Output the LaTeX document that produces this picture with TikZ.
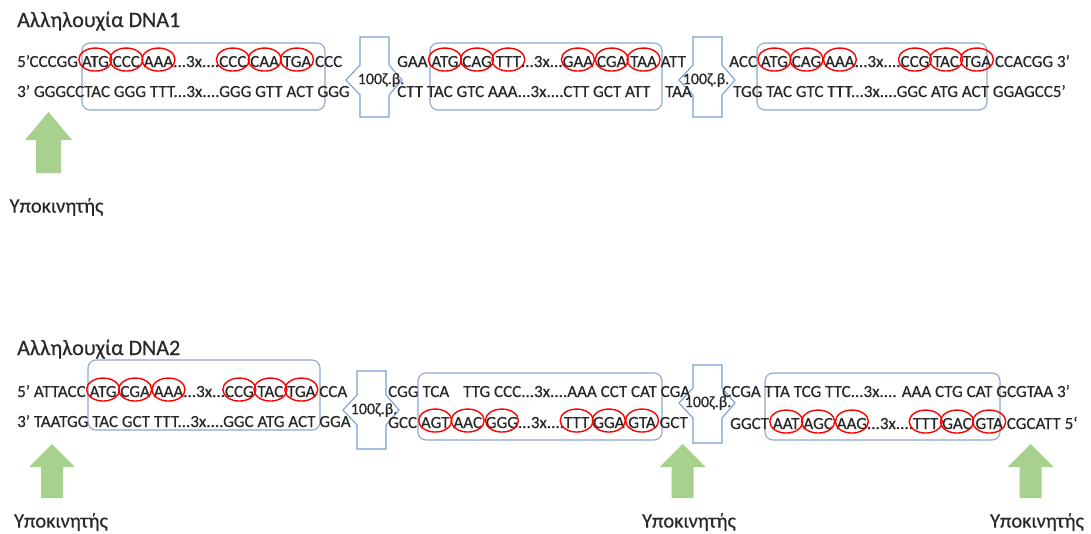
\documentclass[tikz,border=0pt]{standalone}
\usepackage{fontspec}
\setmainfont{Carlito}
\newfontfamily\dnafont{Carlito}[FakeBold=0.4]
\definecolor{dnatext}{RGB}{40,40,40}
\definecolor{geneframe}{RGB}{140,168,204}
\definecolor{gapframe}{RGB}{120,158,208}
\definecolor{promgreen}{RGB}{169,209,142}

% a codon with a red ring drawn round it (the ring takes no space)
\newcommand\cod[1]{\tikz[baseline=(cd.base),x=1pt,y=1pt]{%
  \node[inner sep=0pt,outer sep=0pt,anchor=base,text=dnatext] (cd) at (0,0) {#1};%
  \draw[red,line width=1.4pt,overlay] ([yshift=2pt]cd.center) ellipse [x radius=16.5pt,y radius=11.5pt];}}

% intron marker: tall box with a small arrow head on each side
% #1 left x, #2 right x, #3 top y, #4 bottom y, #5 middle y, #6 label x, #7 name
\newcommand\intronmark[7]{%
  \draw[gapframe,line width=1.1pt,fill=white,line join=miter]
    (#1,#3) -- (#2,#3) -- (#2,#5-15) -- (#2+13,#5) -- (#2,#5+15) -- (#2,#4)
    -- (#1,#4) -- (#1,#5+15) -- (#1-14,#5) -- (#1,#5-15) -- cycle;
  \node[gaplabel] (#7) at (#6,#5) {100ζ.β.};}

% promoter arrow pointing up: #1 centre x, #2 tip y, #3 head base y, #4 bottom y, #5 head half width, #6 shaft half width
\newcommand\promarrow[6]{%
  \fill[promgreen] (#1,#2) -- (#1+#5,#3) -- (#1+#6,#3) -- (#1+#6,#4)
    -- (#1-#6,#4) -- (#1-#6,#3) -- (#1-#5,#3) -- cycle;}

\tikzset{
  strand/.style={font=\dnafont\fontsize{17}{20}\selectfont,inner sep=0pt,anchor=base west,text=dnatext},
  title/.style={font=\dnafont\fontsize{22}{26}\selectfont,inner sep=0pt,anchor=base west,text=dnatext},
  gaplabel/.style={font=\dnafont\fontsize{16}{18}\selectfont,inner sep=0pt,text=dnatext},
  promlabel/.style={font=\dnafont\fontsize{20.5}{24}\selectfont,inner sep=0pt,text=dnatext},
  genebox/.style={draw=geneframe,line width=1.1pt,rounded corners=8pt},
}

\begin{document}
\begin{tikzpicture}[x=1pt,y=-1pt]
\useasboundingbox[fill=white] (0,0) rectangle (1091,533);

%% ---------------- DNA1 ----------------
\node[title] (title1) at (17,27) {Αλληλουχία DNA1};

\draw[genebox] (82,43) rectangle (325,110);
\draw[genebox] (430,43) rectangle (662,110);
\draw[genebox] (757,43) rectangle (987,110);

\intronmark{360}{389}{37}{117}{80}{381}{gapA}
\intronmark{693}{722}{37}{117}{80}{706}{gapB}

\node[strand] (u1) at (17,67) {5’CCCGG \cod{ATG} \cod{CCC} \cod{AAA}...3x....\cod{CCC} \cod{CAA} \cod{TGA} CCC};
\node[strand] (l1) at (17,97) {3’ GGGCCTAC GGG TTT...3x....GGG GTT ACT GGG};
\node[strand] (u2) at (397,67) {GAA \cod{ATG} \cod{CAG} \cod{TTT}...3x...\cod{GAA} \cod{CGA} \cod{TAA} ATT};
\node[strand] (l2) at (397,97) {CTT TAC GTC AAA...3x....CTT GCT ATT};
\node[strand] (l2b) at (665,97) {TAA};
\node[strand] (u3) at (729,67) {ACC \cod{ATG} \cod{CAG} \cod{AAA}...3x....\cod{CCG} \cod{TAC} \cod{TGA} CCACGG 3’};
\node[strand] (l3) at (733,97) {TGG TAC GTC TTT...3x....GGC ATG ACT GGAGCC5’};

\promarrow{48.5}{112}{140}{173}{23.5}{12.5}
\node[promlabel] (p1) at (56.5,207) {Υποκινητής};

%% ---------------- DNA2 ----------------
\node[title] (title2) at (17,355) {Αλληλουχία DNA2};

\draw[genebox] (88,360) rectangle (320,430);
\draw[genebox] (418,373) rectangle (662,440);
\draw[genebox] (765,373) rectangle (1000,440);

\intronmark{357}{386}{371}{449}{410}{374}{gapC}
\intronmark{693}{722}{365}{443}{403}{708}{gapD}

\node[strand] (v1) at (17,397) {5’ ATTACC \cod{ATG} \cod{CGA} \cod{AAA}...3x...\cod{CCG} \cod{TAC} \cod{TGA} CCA};
\node[strand] (m1) at (17,427) {3’ TAATGG TAC GCT TTT...3x....GGC ATG ACT GGA};
\node[strand] (v2) at (388,397) {CGG TCA};
\node[strand] (v2b) at (463,397) {TTG CCC...3x....AAA CCT CAT CGA};
\node[strand] (m2) at (388,428) {GCC \cod{AGT} \cod{AAC} \cod{GGG}...3x....\cod{TTT} \cod{GGA} \cod{GTA} GCT};
\node[strand] (v3) at (722,397) {CCGA TTA TCG TTC...3x.... AAA CTG CAT GCGTAA 3’};
\node[strand] (m3) at (730,429) {GGCT \cod{AAT} \cod{AGC} \cod{AAG}...3x....\cod{TTT} \cod{GAC} \cod{GTA} CGCATT 5‘};

\promarrow{52}{444}{467}{498}{23}{11}
\promarrow{682.5}{444}{467}{498}{23}{11}
\promarrow{1030.5}{444}{467}{498}{23}{11}
\node[promlabel] (p2) at (61,522) {Υποκινητής};
\node[promlabel] (p3) at (689,522) {Υποκινητής};
\node[promlabel] (p4) at (1037,522) {Υποκινητής};
\end{tikzpicture}
\end{document}
